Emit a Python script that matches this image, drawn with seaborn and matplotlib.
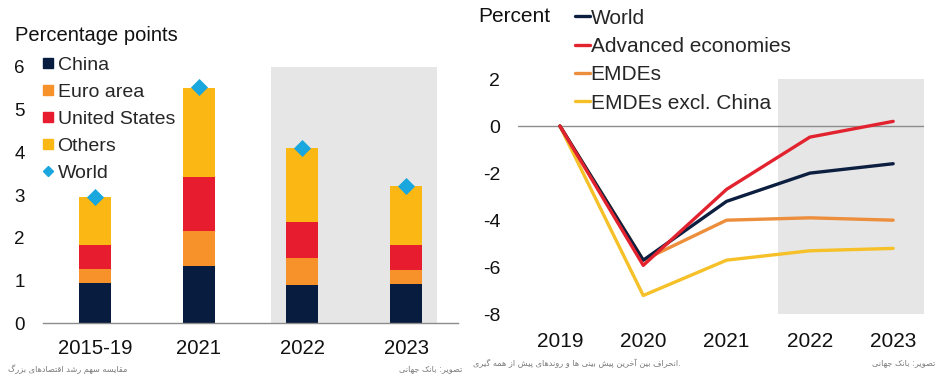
import matplotlib
matplotlib.use("Agg")
import matplotlib.pyplot as plt
from matplotlib.lines import Line2D
import seaborn as sns
import pandas as pd
import numpy as np

# ---------------- data ----------------
periods = ["2015-19", "2021", "2022", "2023"]
china = [0.95, 1.34, 0.89, 0.91]
euro_area = [0.33, 0.81, 0.64, 0.33]
united_states = [0.54, 1.28, 0.85, 0.58]
others = [1.13, 2.08, 1.73, 1.38]
world_contrib = [2.95, 5.53, 4.11, 3.21]

years = [2019, 2020, 2021, 2022, 2023]
world_dev = [0.0, -5.7, -3.2, -2.0, -1.6]
advanced_dev = [0.0, -5.92, -2.69, -0.47, 0.2]
emdes_dev = [0.0, -5.7, -4.0, -3.9, -4.0]
emdes_ex_china_dev = [0.0, -7.2, -5.7, -5.3, -5.2]

left_title = "Percentage points"
right_title = "Percent"
cap_left1 = "مقایسه سهم رشد اقتصادهای بزرگ"
cap_source = "تصویر: بانک جهانی"
cap_right1 = "انحراف بین آخرین پیش بینی ها و روندهای پیش از همه گیری"

# ---------------- simple Persian shaping (presentation forms, visual order) ----------------
FORMS = {
    "ا": ("\uFE8D", "\uFE8E"), "آ": ("\uFE81", "\uFE82"),
    "د": ("\uFEA9", "\uFEAA"), "ر": ("\uFEAD", "\uFEAE"),
    "ز": ("\uFEAF", "\uFEB0"), "و": ("\uFEED", "\uFEEE"),
    "ب": ("\uFE8F", "\uFE90", "\uFE91", "\uFE92"),
    "ت": ("\uFE95", "\uFE96", "\uFE97", "\uFE98"),
    "پ": ("\uFB56", "\uFB57", "\uFB58", "\uFB59"),
    "ج": ("\uFE9D", "\uFE9E", "\uFE9F", "\uFEA0"),
    "ح": ("\uFEA1", "\uFEA2", "\uFEA3", "\uFEA4"),
    "خ": ("\uFEA5", "\uFEA6", "\uFEA7", "\uFEA8"),
    "س": ("\uFEB1", "\uFEB2", "\uFEB3", "\uFEB4"),
    "ش": ("\uFEB5", "\uFEB6", "\uFEB7", "\uFEB8"),
    "ص": ("\uFEB9", "\uFEBA", "\uFEBB", "\uFEBC"),
    "ف": ("\uFED1", "\uFED2", "\uFED3", "\uFED4"),
    "ق": ("\uFED5", "\uFED6", "\uFED7", "\uFED8"),
    "م": ("\uFEE1", "\uFEE2", "\uFEE3", "\uFEE4"),
    "ن": ("\uFEE5", "\uFEE6", "\uFEE7", "\uFEE8"),
    "ه": ("\uFEE9", "\uFEEA", "\uFEEB", "\uFEEC"),
    "ی": ("\uFBFC", "\uFBFD", "\uFBFE", "\uFBFF"),
    "ک": ("\uFB8E", "\uFB8F", "\uFB90", "\uFB91"),
    "گ": ("\uFB92", "\uFB93", "\uFB94", "\uFB95"),
}
DUAL = {k for k, v in FORMS.items() if len(v) == 4}


def fa(text):
    out = []
    for i, c in enumerate(text):
        if c not in FORMS:
            out.append(c)
            continue
        prev = text[i - 1] if i > 0 else ""
        nxt = text[i + 1] if i + 1 < len(text) else ""
        jp = prev in DUAL
        jn = (c in DUAL) and (nxt in FORMS)
        f = FORMS[c]
        if jp and jn:
            g = f[3]
        elif jp:
            g = f[1]
        elif jn:
            g = f[2]
        else:
            g = f[0]
        out.append(g)
    return "".join(reversed(out))


# ---------------- style ----------------
sns.set_theme(style="white")
plt.rcParams["font.family"] = ["Liberation Sans", "DejaVu Sans"]

W, H = 940, 384
fig = plt.figure(figsize=(W / 100, H / 100), dpi=100)


def fx(px):
    return px / W


def fy(py):
    return 1 - py / H


C_CHINA = "#071c3e"
C_EURO = "#f7922b"
C_US = "#e71c2e"
C_OTH = "#fbb713"
C_WORLD = "#1aa7dd"
SHADE = "#e6e6e6"
AXGRAY = "#8c8c8c"
TXT = "#111111"

# ---------------- left panel ----------------
axL = fig.add_axes([fx(43), fy(323.3), fx(458) - fx(43), fy(66.7) - fy(323.3)])
axL.axvspan(1.7, 3.3, color=SHADE, lw=0, zorder=0)

layers = [china, euro_area, united_states, others]
cum = np.cumsum(np.array(layers), axis=0)
layer_colors = [C_CHINA, C_EURO, C_US, C_OTH]
for k in range(len(layers) - 1, -1, -1):
    dfk = pd.DataFrame({"period": periods, "value": cum[k]})
    sns.barplot(data=dfk, x="period", y="value", order=periods, color=layer_colors[k],
                saturation=1, width=0.31, linewidth=0, errorbar=None, ax=axL, zorder=2)

dfw = pd.DataFrame({"period": periods, "world": world_contrib})
sns.stripplot(data=dfw, x="period", y="world", order=periods, color=C_WORLD, marker="D",
              size=8.7, jitter=False, linewidth=0, ax=axL, zorder=4, clip_on=False)

axL.set_xlim(-0.5, 3.5)
axL.set_ylim(0, 6)
axL.set_yticks(range(0, 7))
axL.set_xlabel("")
axL.set_ylabel("")
for s in ["top", "right", "left"]:
    axL.spines[s].set_visible(False)
axL.spines["bottom"].set_color(AXGRAY)
axL.spines["bottom"].set_linewidth(1.0)
axL.tick_params(axis="y", length=0, pad=13, labelsize=13.5, colors=TXT)
axL.tick_params(axis="x", length=0, pad=11, labelsize=14.6, colors=TXT)
axL.grid(False)

fig.text(fx(15), fy(41), left_title, fontsize=14.5, color=TXT, va="baseline", ha="left")

hL = [
    Line2D([], [], marker="s", ls="none", color=C_CHINA, markersize=7),
    Line2D([], [], marker="s", ls="none", color=C_EURO, markersize=7),
    Line2D([], [], marker="s", ls="none", color=C_US, markersize=7),
    Line2D([], [], marker="s", ls="none", color=C_OTH, markersize=7),
    Line2D([], [], marker="D", ls="none", color=C_WORLD, markersize=5.5),
]
labL = ["China", "Euro area", "United States", "Others", "World"]
fig.legend(hL, labL, loc="upper left", bbox_to_anchor=(fx(43), fy(56.5)), frameon=False,
           fontsize=14, handlelength=0.55, handletextpad=0.2, labelspacing=0.48,
           borderpad=0, borderaxespad=0)

# ---------------- right panel ----------------
axR = fig.add_axes([fx(518.3), fy(314.3), fx(924) - fx(518.3), fy(79) - fy(314.3)])
axR.axvspan(2021.62, 2023.37, color=SHADE, lw=0, zorder=0)
axR.axhline(0, color=AXGRAY, lw=1.0, zorder=1)

series_names = ["World", "Advanced economies", "EMDEs", "EMDEs excl. China"]
series_vals = [world_dev, advanced_dev, emdes_dev, emdes_ex_china_dev]
line_colors = ["#0d1f40", "#e2232f", "#ec8e3b", "#f6c029"]
dfl = pd.concat([pd.DataFrame({"year": years, "value": v, "series": n})
                 for n, v in zip(series_names, series_vals)], ignore_index=True)
# draw order: yellow at back, then orange, navy, red on top
draw_order = ["EMDEs excl. China", "EMDEs", "World", "Advanced economies"]
for n in draw_order:
    sns.lineplot(data=dfl[dfl.series == n], x="year", y="value", color=line_colors[series_names.index(n)],
                 linewidth=2.4, ax=axR, zorder=3, legend=False)

axR.set_xlim(2018.5, 2023.37)
axR.set_ylim(-8, 2)
axR.set_xticks(years)
axR.set_xticklabels([str(y) for y in years])
axR.set_yticks([2, 0, -2, -4, -6, -8])
axR.set_yticklabels(["2", "0", "-2", "-4", "-6", "-8"])
axR.set_xlabel("")
axR.set_ylabel("")
for s in ["top", "right", "left", "bottom"]:
    axR.spines[s].set_visible(False)
axR.tick_params(axis="y", length=0, pad=13, labelsize=14, colors=TXT)
axR.tick_params(axis="x", length=0, pad=12.5, labelsize=15, colors=TXT)
axR.grid(False)

fig.text(fx(478), fy(22), right_title, fontsize=15, color=TXT, va="baseline", ha="left")

hR = [Line2D([], [], color=c, lw=2.4) for c in line_colors]
fig.legend(hR, series_names, loc="upper left", bbox_to_anchor=(fx(575), fy(8.5)), frameon=False,
           fontsize=15, handlelength=0.72, handletextpad=0.03, labelspacing=0.45,
           borderpad=0, borderaxespad=0)

# ---------------- captions ----------------
capc = "#7a7a7a"
fa_font = ["DejaVu Sans"]
fig.text(fx(8), fy(369), fa(cap_left1), fontsize=5.9, color=capc, ha="left", va="center", family=fa_font)
fig.text(fx(462), fy(369), fa(cap_source), fontsize=5.9, color=capc, ha="right", va="center", family=fa_font)
fig.text(fx(473), fy(363), fa(cap_right1) + ".", fontsize=5.9, color=capc, ha="left", va="center", family=fa_font)
fig.text(fx(935), fy(363), fa(cap_source), fontsize=5.9, color=capc, ha="right", va="center", family=fa_font)

fig.savefig("out.png", dpi=100, facecolor="white")
